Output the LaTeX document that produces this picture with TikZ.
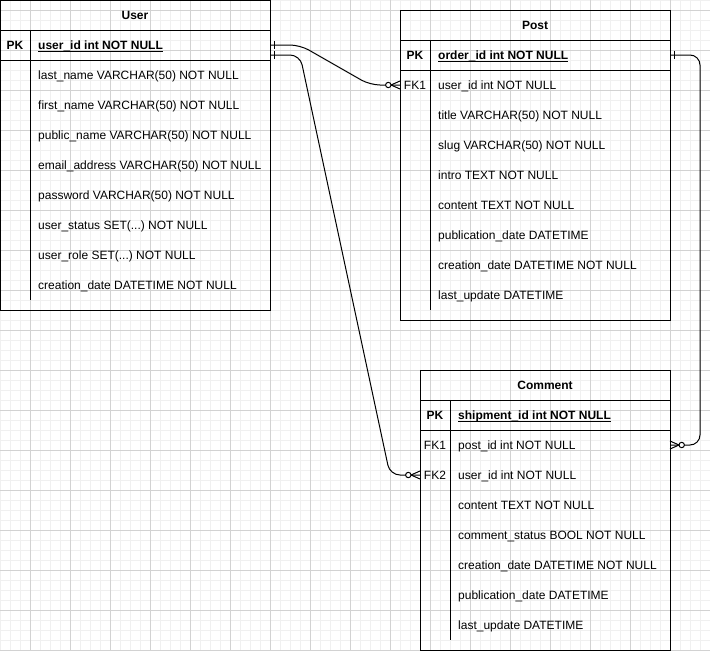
\documentclass[tikz,border=0pt]{standalone}
\usepackage{fontspec}
\setmainfont{Liberation Sans}
\usetikzlibrary{calc}

\definecolor{MinorGridColor}{RGB}{240,240,240}
\definecolor{MajorGridColor}{RGB}{210,210,210}

\begin{document}
\frenchspacing
\begin{tikzpicture}[
		x=1pt, y=-1pt,
		minorgrid/.style={MinorGridColor, line width=1pt},
		majorgrid/.style={MajorGridColor, line width=1pt},
		entity/.style={draw, line width=1pt, inner sep=0pt, outer sep=0pt, anchor=north west},
		separator/.style={line width=1pt},
		title/.style={font=\fontsize{12}{14}\selectfont\bfseries},
		column/.style={minimum width=30pt, minimum height=30pt, inner sep=0pt, outer sep=0pt, font=\fontsize{12}{14}\selectfont},
		field/.style={anchor=west, inner sep=0pt, text height=9pt, text depth=0pt, font=\fontsize{12}{14}\selectfont},
		primary/.style={font=\fontsize{12}{14}\selectfont\bfseries},
		keyline/.style={line width=1pt},
		relation/.style={line width=1pt, rounded corners=10pt},
		notation/.style={line width=1pt}
	]

	\useasboundingbox (0,0) rectangle (710,651);

	% Grid
	\foreach \gx in {0,10,...,710} \draw[minorgrid] (\gx,0) -- (\gx,651);
	\foreach \gy in {0,10,...,650} \draw[minorgrid] (0,\gy) -- (710,\gy);
	\foreach \gx in {30,70,...,710} \draw[majorgrid] (\gx,0) -- (\gx,651);
	\foreach \gy in {10,50,...,650} \draw[majorgrid] (0,\gy) -- (710,\gy);

	% User
	\node[entity, minimum width=270pt, minimum height=310pt] (user) at (0,0) {};
	\draw[separator] (0,30) -- (270,30) (0,60) -- (270,60) (30,30) -- (30,300);
	\node[title] (usertitle) at (135,15) {User};
	\node[column, primary] (userpk) at (15,45) {PK};
	\node[field, primary] (useruid) at (38,45) {user\_id int NOT NULL};
	\draw[keyline] ($(useruid.south west)+(0,1.5)$) -- ($(useruid.south east)+(0,1.5)$);
	\node[field] (userlast) at (38,75) {last\_name VARCHAR(50) NOT NULL};
	\node[field] (userfirst) at (38,105) {first\_name VARCHAR(50) NOT NULL};
	\node[field] (userpublic) at (38,135) {public\_name VARCHAR(50) NOT NULL};
	\node[field] (useremail) at (38,165) {email\_address VARCHAR(50) NOT NULL};
	\node[field] (userpass) at (38,195) {password VARCHAR(50) NOT NULL};
	\node[field] (userstatus) at (38,225) {user\_status SET(...) NOT NULL};
	\node[field] (userrole) at (38,255) {user\_role SET(...) NOT NULL};
	\node[field] (usercreated) at (38,285) {creation\_date DATETIME NOT NULL};

	% Post
	\node[entity, minimum width=270pt, minimum height=310pt] (post) at (400,10) {};
	\draw[separator] (400,40) -- (670,40) (400,70) -- (670,70) (430,40) -- (430,310);
	\node[title] (posttitle) at (535,25) {Post};
	\node[column, primary] (postpk) at (415,55) {PK};
	\node[field, primary] (postoid) at (438,55) {order\_id int NOT NULL};
	\draw[keyline] ($(postoid.south west)+(0,1.5)$) -- ($(postoid.south east)+(0,1.5)$);
	\node[column] (postfk1) at (415,85) {FK1};
	\node[field] (postuid) at (438,85) {user\_id int NOT NULL};
	\node[field] (posttitlefield) at (438,115) {title VARCHAR(50) NOT NULL};
	\node[field] (postslug) at (438,145) {slug VARCHAR(50) NOT NULL};
	\node[field] (postintro) at (438,175) {intro TEXT NOT NULL};
	\node[field] (postcontent) at (438,205) {content TEXT NOT NULL};
	\node[field] (postpublished) at (438,235) {publication\_date DATETIME};
	\node[field] (postcreated) at (438,265) {creation\_date DATETIME NOT NULL};
	\node[field] (postupdated) at (438,295) {last\_update DATETIME};

	% Comment
	\node[entity, minimum width=250pt, minimum height=280pt] (comment) at (420,370) {};
	\draw[separator] (420,400) -- (670,400) (420,430) -- (670,430) (450,400) -- (450,640);
	\node[title] (commenttitle) at (545,385) {Comment};
	\node[column, primary] (commentpk) at (435,415) {PK};
	\node[field, primary] (commentsid) at (458,415) {shipment\_id int NOT NULL};
	\draw[keyline] ($(commentsid.south west)+(0,1.5)$) -- ($(commentsid.south east)+(0,1.5)$);
	\node[column] (commentfk1) at (435,445) {FK1};
	\node[field] (commentpid) at (458,445) {post\_id int NOT NULL};
	\node[column] (commentfk2) at (435,475) {FK2};
	\node[field] (commentuid) at (458,475) {user\_id int NOT NULL};
	\node[field] (commentcontent) at (458,505) {content TEXT NOT NULL};
	\node[field] (commentstatus) at (458,535) {comment\_status BOOL NOT NULL};
	\node[field] (commentcreated) at (458,565) {creation\_date DATETIME NOT NULL};
	\node[field] (commentpublished) at (458,595) {publication\_date DATETIME};
	\node[field] (commentupdated) at (458,625) {last\_update DATETIME};

	% Relations
	\draw[relation] (user.east |- useruid) -- ++(30,0) -- ($(postfk1.west)+(-30,0)$) -- (postfk1.west);
	\draw[relation] ($(user.east |- useruid)+(0,10)$) -- ++(30,0) -- ($(commentfk2.west)+(-30,0)$) -- (commentfk2.west);
	\draw[relation] (post.east |- postoid) -- ++(30,0) -- ($(comment.east |- commentfk1)+(30,0)$) -- (comment.east |- commentfk1);

	% One marks
	\draw[notation] ($(user.east |- useruid)+(4,-4)$) -- ++(0,8);
	\draw[notation] ($(user.east |- useruid)+(4,6)$) -- ++(0,8);
	\draw[notation] ($(post.east |- postoid)+(4,-4)$) -- ++(0,8);

	% Zero or many marks
	\draw[notation] ($(postfk1.west)+(-9,0)$) -- ++(9,-4) ($(postfk1.west)+(-9,0)$) -- ++(9,4);
	\draw[notation, fill=white] ($(postfk1.west)+(-11.7,0)$) circle[radius=2.7pt];
	\draw[notation] ($(commentfk2.west)+(-9,0)$) -- ++(9,-4) ($(commentfk2.west)+(-9,0)$) -- ++(9,4);
	\draw[notation, fill=white] ($(commentfk2.west)+(-11.7,0)$) circle[radius=2.7pt];
	\draw[notation] ($(comment.east |- commentfk1)+(9,0)$) -- ++(-9,-4) ($(comment.east |- commentfk1)+(9,0)$) -- ++(-9,4);
	\draw[notation, fill=white] ($(comment.east |- commentfk1)+(11.7,0)$) circle[radius=2.7pt];

\end{tikzpicture}
\end{document}
